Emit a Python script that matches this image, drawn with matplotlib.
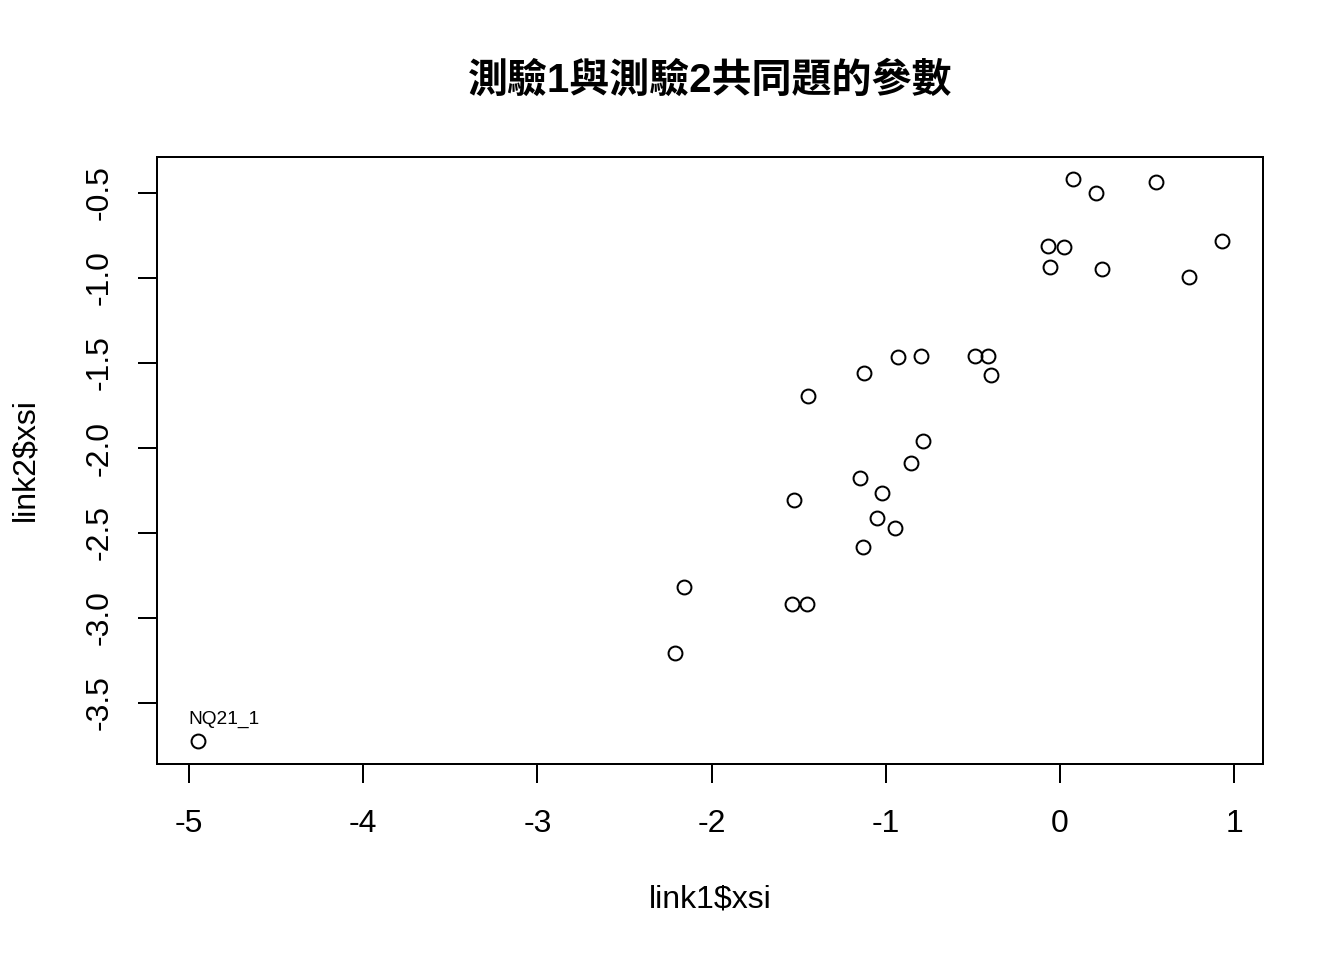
import matplotlib
matplotlib.use("Agg")
import matplotlib.pyplot as plt

# common items: link1$xsi vs link2$xsi
xsi1 = [-4.948, -2.210, -2.159, -1.538, -1.452, -1.526, -1.446, -1.130, -1.148,
        -1.051, -1.022, -0.947, -0.855, -0.786, -1.125, -0.930, -0.798, -0.488,
        -0.413, -0.396, -0.069, 0.023, -0.057, 0.241, 0.075, 0.207, 0.551,
        0.930, 0.740]
xsi2 = [-3.724, -3.206, -2.818, -2.918, -2.918, -2.306, -1.694, -2.582, -2.176,
        -2.412, -2.265, -2.471, -2.088, -1.959, -1.559, -1.465, -1.459, -1.459,
        -1.459, -1.571, -0.812, -0.818, -0.935, -0.947, -0.418, -0.500, -0.435,
        -0.782, -0.994]
outlier_label = "NQ21_1"
xticks = [-5, -4, -3, -2, -1, 0, 1]
yticks = [-0.5, -1.0, -1.5, -2.0, -2.5, -3.0, -3.5]

plt.rcParams['font.family'] = ['Liberation Sans', 'Noto Sans CJK TC']

fig = plt.figure(figsize=(7, 5), dpi=192)
ax = fig.add_axes([157/1344, 1 - 764/960, (1263-157)/1344, (764-157)/960])

ax.plot(xsi1, xsi2, linestyle='none', marker='o', markersize=5.2,
        markerfacecolor='none', markeredgecolor='black', markeredgewidth=0.75)
ax.annotate(outlier_label, (xsi1[0], xsi2[0]), xytext=(-3.5, 5), textcoords='offset points',
            fontsize=7.2, ha='left', va='bottom')

ax.set_xlim(-5.184, 1.166)
ax.set_ylim(-3.859, -0.288)
ax.set_xticks(xticks)
ax.set_xticklabels([f"{t:g}" for t in xticks])
ax.set_yticks(yticks)
ax.set_yticklabels([f"{t:.1f}" for t in yticks], rotation=90, va='center')
ax.tick_params(direction='out', length=7, width=0.75, labelsize=12)
ax.tick_params(axis='x', pad=10)
ax.tick_params(axis='y', pad=9)
for s in ax.spines.values():
    s.set_linewidth(0.75)

fig.text(710/1344, 1 - 81/960, "測驗1與測驗2共同題的參數", ha='center', va='center',
         fontsize=15, fontweight='bold', family=['Liberation Sans', 'Noto Sans CJK TC'])
fig.text(710/1344, 1 - 900/960, "link1$xsi", ha='center', va='center', fontsize=12)
fig.text(25/1344, 1 - 460/960, "link2$xsi", ha='center', va='center', fontsize=12, rotation=90)

fig.savefig("out.png", dpi=192)
